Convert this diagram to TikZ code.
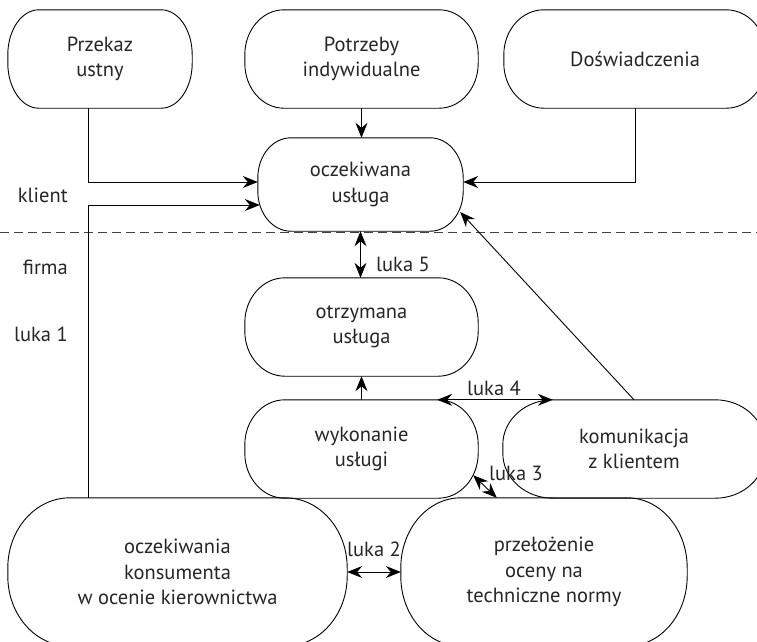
\documentclass[tikz,border=0pt]{standalone}
\usepackage{fontspec}
\setmainfont{PT Sans}
\usetikzlibrary{arrows.meta}
% outline of a box with elliptical ends: node name, x radius, y radius
\newcommand\pilloutline[3]{%
  \draw[outline] ([xshift=#2]#1.north west) -- ([xshift=-#2]#1.north east)
    arc[start angle=90, end angle=0, x radius=#2, y radius=#3]
    -- ([yshift=#3]#1.south east)
    arc[start angle=0, end angle=-90, x radius=#2, y radius=#3]
    -- ([xshift=#2]#1.south west)
    arc[start angle=270, end angle=180, x radius=#2, y radius=#3]
    -- ([yshift=-#3]#1.north west)
    arc[start angle=180, end angle=90, x radius=#2, y radius=#3] -- cycle;}
\begin{document}
\begin{tikzpicture}[x=1pt,y=-1pt,
  txt/.style={font=\fontsize{20.5}{25.5}\selectfont, text=black!85},
  box/.style={txt, rectangle, align=center, inner sep=0pt},
  outline/.style={line width=0.9pt},
  lbl/.style={txt, inner sep=0pt},
  conn/.style={line width=0.9pt},
  arr/.style={conn, -{Stealth[length=15pt,width=12pt,inset=5pt]}},
  darr/.style={conn, {Stealth[length=15pt,width=12pt,inset=5pt]}-{Stealth[length=15pt,width=12pt,inset=5pt]}},
  divider/.style={line width=0.9pt, black!75, dash pattern=on 9pt off 5pt},
]
\clip (0,0) rectangle (757,641);

% sources of expectations
\node[box, minimum width=184pt, minimum height=98pt] (przekaz) at (100,59) {Przekaz\\ustny};
\node[box, minimum width=233pt, minimum height=98pt] (potrz) at (361.5,59) {Potrzeby\\indywidualne};
\node[box, minimum width=262pt, minimum height=98pt] (dosw) at (635,59) {Doświadczenia};

% client side
\node[box, minimum width=205pt, minimum height=93pt] (oczek) at (360.5,184.5) {oczekiwana\\usługa};

% company side
\node[box, minimum width=233pt, minimum height=98pt] (otrz) at (361.5,327) {otrzymana\\usługa};
\node[box, minimum width=233pt, minimum height=98pt] (wyk) at (361.5,449) {wykonanie\\usługi};
\node[box, minimum width=262pt, minimum height=98pt] (kom) at (634,449) {komunikacja\\z klientem};
\node[box, minimum width=339pt, minimum height=148pt] (kon) at (177.5,572) {oczekiwania\\konsumenta\\w ocenie kierownictwa};
\node[box, minimum width=286pt, minimum height=148pt] (prz) at (544,572) {przełożenie\\oceny na\\techniczne normy};

\pilloutline{przekaz}{31pt}{45pt}
\pilloutline{potrz}{39pt}{45pt}
\pilloutline{dosw}{40pt}{45pt}
\pilloutline{oczek}{33pt}{40pt}
\pilloutline{otrz}{40pt}{45pt}
\pilloutline{wyk}{40pt}{45pt}
\pilloutline{kom}{50pt}{45pt}
\pilloutline{kon}{62pt}{70pt}
\pilloutline{prz}{60pt}{70pt}

% client / company divider
\draw[divider] (0,232) -- (757,232);

% bend points
\coordinate (bendA) at (88,182);
\coordinate (bendB) at (88,205);

% connectors
\draw[arr] (przekaz.south -| bendA) -- (bendA) -- (oczek.west |- bendA);
\draw[arr] (dosw.south) |- (oczek.east |- bendA);
\draw[arr] (potrz.south) -- (potrz.south |- oczek.north);
\draw[arr] (kon.north -| bendB) -- (bendB) -- ([xshift=2pt]oczek.west |- bendB);
\draw[darr] (oczek.south) -- (oczek.south |- otrz.north);
\draw[arr] (wyk.north) -- (otrz.south);
\draw[darr] ([xshift=-41pt]wyk.north east) -- ([xshift=50pt]kom.north west);
\draw[arr] (kom.north) -- ([xshift=-3pt,yshift=-27.5pt]oczek.east);
\draw[darr] ([xshift=-5pt,yshift=23pt]wyk.south east) -- ([xshift=96pt]prz.north west);
\draw[darr] (kon.east) -- (prz.west);

% labels
\node[lbl, anchor=east] (klient) at (68,195) {klient};
\node[lbl, anchor=east] (firma) at (68,267) {firma};
\node[lbl, anchor=east] (luka1) at (68,334) {luka 1};
\node[lbl] (luka5) at (403,264) {luka 5};
\node[lbl] (luka4) at (494,388) {luka 4};
\node[lbl] (luka3) at (516,473) {luka 3};
\node[lbl] (luka2) at (374,549) {luka 2};
\end{tikzpicture}
\end{document}
